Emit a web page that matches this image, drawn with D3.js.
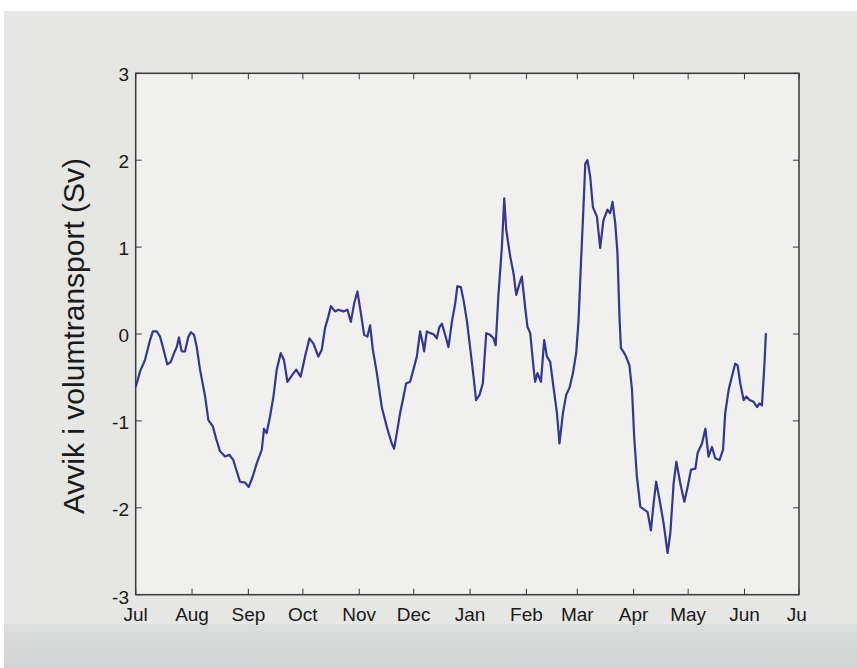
<!DOCTYPE html>
<html>
<head>
<meta charset="utf-8">
<script src="https://cdn.jsdelivr.net/npm/d3@7"></script>
<style>
html,body{margin:0;padding:0;background:#ffffff;}
svg{display:block;}
</style>
</head>
<body>
<svg id="chart" width="857" height="668"></svg>
<script>
// ---- data (days since 1 July, deviation in Sv) ----
const dayOffsets = [0,2.4,5.1,7.9,9.4,11.6,13.4,15.2,17.4,19.3,21.1,22.6,23.8,25.3,27.1,29.0,30.4,32.1,33.6,35.4,
  38.2,40.0,42.4,44.2,46.4,49.2,51.5,53.7,55.9,57.4,60.2,62.2,64.4,66.6,69.4,70.6,72.1,73.9,75.8,77.6,
  79.8,81.6,83.5,85.9,88.3,90.8,93.2,95.6,97.8,100.5,102.4,104.2,106.0,107.4,109.7,111.5,114.3,116.5,118.4,120.2,
  122.0,123.9,125.7,127.5,129.0,130.5,132.7,135.4,138.2,140.9,142.2,144.0,145.5,147.0,148.8,151.0,152.8,154.7,156.5,158.0,
  158.7,160.2,162.0,163.8,165.7,167.1,168.5,170.3,172.1,174.0,175.8,177.0,178.9,180.4,182.2,184.0,185.9,187.3,189.2,191.0,
  192.9,195.0,196.9,198.1,199.6,201.5,202.8,203.9,206.1,207.9,209.4,211.2,212.5,214.3,215.6,217.1,218.9,219.8,221.1,223.0,
  224.8,226.3,228.1,229.9,231.8,233.2,235.1,236.9,238.7,240.6,242.4,243.7,245.0,246.4,247.4,248.6,250.1,251.6,253.8,255.6,
  257.4,259.6,261.1,262.4,263.9,265.1,266.2,267.0,269.4,271.7,273.1,274.3,275.8,277.7,280.4,281.7,283.5,285.0,286.4,288.3,
  290.5,292.7,294.2,296.0,297.5,299.7,301.9,303.7,305.6,308.0,309.2,311.6,313.5,315.2,317.1,318.9,321.3,323.2,324.4,326.3,
  328.1,329.9,331.2,332.7,334.5,336.0,337.8,340.0,341.9,343.3,344.6,345.9,346.8];
const deviation = [-0.61,-0.43,-0.30,-0.07,0.03,0.03,-0.03,-0.17,-0.35,-0.32,-0.22,-0.15,-0.04,-0.20,-0.20,-0.03,0.02,-0.01,-0.15,-0.41,
  -0.72,-0.99,-1.06,-1.20,-1.35,-1.41,-1.39,-1.45,-1.60,-1.70,-1.71,-1.76,-1.64,-1.49,-1.33,-1.09,-1.14,-0.95,-0.72,-0.41,
  -0.22,-0.30,-0.55,-0.48,-0.41,-0.49,-0.26,-0.05,-0.11,-0.26,-0.18,0.07,0.20,0.32,0.26,0.28,0.26,0.28,0.14,0.35,
  0.49,0.24,-0.01,-0.03,0.10,-0.18,-0.45,-0.84,-1.07,-1.26,-1.32,-1.10,-0.91,-0.76,-0.57,-0.55,-0.41,-0.26,0.03,-0.11,
  -0.20,0.03,0.01,0.00,-0.05,0.08,0.12,-0.01,-0.15,0.14,0.35,0.55,0.54,0.39,0.16,-0.15,-0.49,-0.76,-0.70,-0.57,
  0.01,-0.01,-0.05,-0.13,0.45,1.00,1.56,1.20,0.89,0.70,0.45,0.58,0.66,0.31,0.08,0.01,-0.38,-0.55,-0.45,-0.55,
  -0.07,-0.26,-0.32,-0.61,-0.91,-1.26,-0.91,-0.70,-0.62,-0.45,-0.22,0.16,0.81,1.46,1.96,2.00,1.81,1.46,1.35,0.99,
  1.31,1.43,1.39,1.52,1.27,0.93,0.20,-0.16,-0.24,-0.36,-0.64,-1.18,-1.64,-1.99,-2.03,-2.05,-2.26,-1.95,-1.70,-1.91,
  -2.18,-2.52,-2.29,-1.72,-1.47,-1.72,-1.93,-1.76,-1.56,-1.55,-1.37,-1.26,-1.09,-1.41,-1.30,-1.43,-1.45,-1.33,-0.91,-0.64,
  -0.49,-0.34,-0.36,-0.57,-0.76,-0.72,-0.76,-0.78,-0.84,-0.80,-0.82,-0.38,0.01];
const yTicks = [-3,-2,-1,0,1,2,3];
const yLabel = "Avvik i volumtransport (Sv)";
const startDate = new Date(Date.UTC(2010,6,1));
const endDate = new Date(Date.UTC(2011,6,1));

// ---- layout ----
const svg = d3.select("#chart");
const L = 135.7, R = 799, T = 73.3, B = 594.7;

const defs = svg.append("defs");
const grad = defs.append("linearGradient").attr("id","bottomGrad").attr("x1",0).attr("y1",0).attr("x2",0).attr("y2",1);
grad.append("stop").attr("offset","0%").attr("stop-color","#dcdddd");
grad.append("stop").attr("offset","100%").attr("stop-color","#d1d2d3");
defs.append("clipPath").attr("id","labelClip").append("rect")
  .attr("x",0).attr("y",0).attr("width",806).attr("height",668);

svg.append("rect").attr("x",4).attr("y",11).attr("width",853).attr("height",657).attr("fill","#e6e6e4");
svg.append("rect").attr("x",4).attr("y",624).attr("width",853).attr("height",44).attr("fill","url(#bottomGrad)");
svg.append("rect").attr("x",L).attr("y",T).attr("width",R-L).attr("height",B-T).attr("fill","#f0f0ef");

const x = d3.scaleUtc().domain([startDate,endDate]).range([L,R]);
const y = d3.scaleLinear().domain([-3,3]).range([B,T]);

const months = d3.utcMonth.range(startDate, d3.utcDay.offset(endDate,1));
const fmt = d3.utcFormat("%b");
const axisColor = "#3a3a3a";
const tickLen = 6;

// x ticks (bottom & top, inward)
const gx = svg.append("g");
gx.selectAll("line.bt").data(months).join("line")
  .attr("x1",d=>x(d)).attr("x2",d=>x(d)).attr("y1",B).attr("y2",B-tickLen)
  .attr("stroke",axisColor).attr("stroke-width",1);
gx.selectAll("line.tt").data(months).join("line")
  .attr("x1",d=>x(d)).attr("x2",d=>x(d)).attr("y1",T).attr("y2",T+tickLen)
  .attr("stroke",axisColor).attr("stroke-width",1);
gx.selectAll("text").data(months).join("text")
  .attr("x",d=>x(d)).attr("y",621)
  .attr("text-anchor","middle")
  .attr("clip-path","url(#labelClip)")
  .attr("font-family","Liberation Sans, Arial, sans-serif")
  .attr("font-size",19).attr("fill","#1a1a1a")
  .text(d=>fmt(d));

// y ticks (left & right, inward)
const gy = svg.append("g");
gy.selectAll("line.l").data(yTicks).join("line")
  .attr("x1",L).attr("x2",L+tickLen).attr("y1",d=>y(d)).attr("y2",d=>y(d))
  .attr("stroke",axisColor).attr("stroke-width",1);
gy.selectAll("line.r").data(yTicks).join("line")
  .attr("x1",R).attr("x2",R-tickLen).attr("y1",d=>y(d)).attr("y2",d=>y(d))
  .attr("stroke",axisColor).attr("stroke-width",1);
gy.selectAll("text").data(yTicks).join("text")
  .attr("x",129).attr("y",d=>y(d)+ (d===-3 ? 9 : 8))
  .attr("text-anchor","end")
  .attr("font-family","Liberation Sans, Arial, sans-serif")
  .attr("font-size",19).attr("fill","#1a1a1a")
  .text(d=>d3.format("d")(d).replace("−","-"));

// box
svg.append("rect").attr("x",L).attr("y",T).attr("width",R-L).attr("height",B-T)
  .attr("fill","none").attr("stroke",axisColor).attr("stroke-width",1.5);

// y label
svg.append("text")
  .attr("transform",`translate(84,${(T+B)/2 + 2}) rotate(-90)`)
  .attr("text-anchor","middle")
  .attr("font-family","Liberation Sans, Arial, sans-serif")
  .attr("font-size",30).attr("fill","#1a1a1a")
  .text(yLabel);

// line
const pts = dayOffsets.map((d,i)=>({date:new Date(startDate.getTime()+d*864e5), v:deviation[i]}));
const line = d3.line().x(d=>x(d.date)).y(d=>y(d.v));
svg.append("path").datum(pts).attr("d",line)
  .attr("fill","none").attr("stroke","#33378f").attr("stroke-width",2.2)
  .attr("stroke-linejoin","round");
</script>
</body>
</html>
